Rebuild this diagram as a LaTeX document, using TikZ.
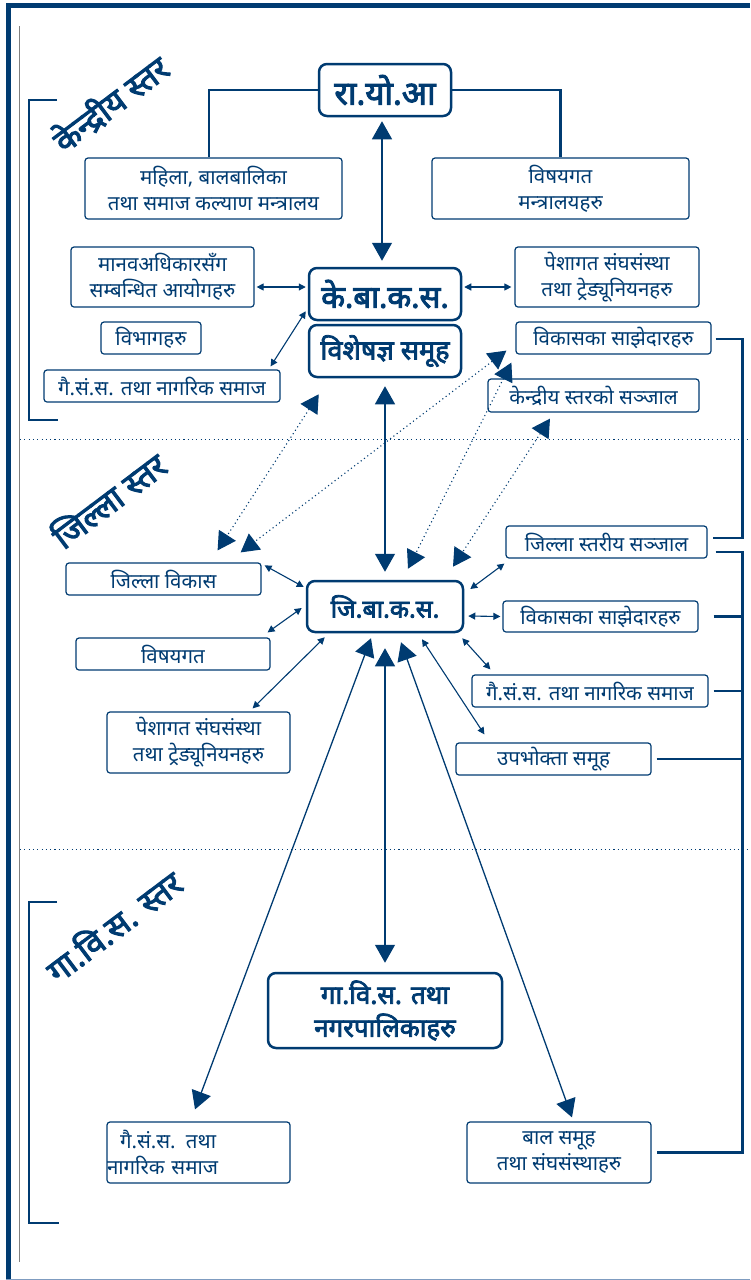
\documentclass[tikz,border=0pt]{standalone}
\usepackage{fontspec}
\newfontfamily\dev[Script=Devanagari]{Noto Sans}
\newfontfamily\devb[Script=Devanagari, FakeBold=3]{Noto Sans}
\usetikzlibrary{arrows.meta,calc}
\definecolor{nb}{HTML}{003B71}
\definecolor{lb}{HTML}{7F9CC0}
\tikzset{
 thinbox/.style={draw=nb, line width=1.2pt, rounded corners=3pt, text=nb, font=\dev\fontsize{20.5}{26}\selectfont, align=center, inner sep=0pt},
 thickbox/.style={draw=nb, line width=2.5pt, rounded corners=8pt, text=nb, font=\devb\fontsize{26}{32}\selectfont, align=center, inner sep=0pt},
 conn/.style={draw=nb, line width=2.3pt},
 bigarr/.style={draw=nb, line width=1.3pt, {Triangle[length=18pt,width=20pt]}-{Triangle[length=18pt,width=20pt]}},
 dotarr/.style={draw=nb, line width=1.1pt, dash pattern=on 1.1pt off 3pt, {Triangle[length=18pt,width=20pt]}-{Triangle[length=18pt,width=20pt]}},
 smallarr/.style={draw=nb, line width=1.1pt, {Triangle[length=7pt,width=7pt]}-{Triangle[length=7pt,width=7pt]}},
 levellabel/.style={text=nb, font=\devb\fontsize{33}{36}\selectfont, rotate=37, inner sep=0pt},
 levelline/.style={draw=nb, line width=1pt, dash pattern=on 1.1pt off 3.2pt},
 bracket/.style={draw=nb, line width=2.5pt},
}
\begin{document}
\begin{tikzpicture}[x=1pt,y=-1pt]
\useasboundingbox (0,0) rectangle (750,1280);
% frame
\draw[nb, line width=5pt] (6,5.8) -- (750,5.8);
\draw[nb, line width=5pt] (8.5,3.3) -- (8.5,1279);
\draw[lb, line width=1pt] (6,1279) -- (750,1279);
\draw[gray, line width=0.9pt] (19,26) -- (19,1262);
% level separators
\draw[levelline] (20,439) -- (750,439);
\draw[levelline] (20,849) -- (750,849);
% left brackets
\draw[bracket] (57,100) -- (29,100) -- (29,420) -- (58,420);
\draw[bracket] (57,902) -- (29,902) -- (29,1223) -- (59,1223);
% level labels
\node[levellabel] (lvlc) at (110,103) {केन्द्रीय स्तर};
\node[levellabel] (lvld) at (108,499) {जिल्ला स्तर};
\node[levellabel] (lvlg) at (113,925) {गा.वि.स. स्तर};

% central level
\node[thickbox, minimum width=132pt, minimum height=52pt, font=\devb\fontsize{33}{36}\selectfont] (rayoa) at (385,90) {रा.यो.आ};
\node[thinbox, minimum width=257pt, minimum height=61pt] (mahila) at (213.5,188.5) {महिला, बालबालिका\\तथा समाज कल्याण मन्त्रालय};
\node[thinbox, minimum width=257pt, minimum height=61pt] (bishayac) at (560.5,188.5) {विषयगत\\मन्त्रालयहरु};
\node[thinbox, minimum width=183pt, minimum height=60pt] (manav) at (162.5,277) {मानवअधिकारसँग\\सम्बन्धित आयोगहरु};
\node[thickbox, minimum width=152pt, minimum height=52pt, font=\devb\fontsize{31}{36}\selectfont] (kebakasa) at (385,294) {के.बा.क.स.};
\node[thickbox, minimum width=152pt, minimum height=52pt, font=\devb\fontsize{27}{32}\selectfont] (bishesagya) at (385,351) {विशेषज्ञ समूह};
\node[thinbox, minimum width=100pt, minimum height=32pt] (bibhag) at (151,338) {विभागहरु};
\node[thinbox, minimum width=236pt, minimum height=32pt] (gaisansac) at (162,386) {गै.सं.स. तथा नागरिक समाज};
\node[thinbox, minimum width=184pt, minimum height=60pt] (peshac) at (607,277) {पेशागत संघसंस्था\\तथा ट्रेड्यूनियनहरु};
\node[thinbox, minimum width=195pt, minimum height=32pt] (bikasc) at (613.5,338) {विकासका साझेदारहरु};
\node[thinbox, minimum width=211pt, minimum height=33pt] (kendsanjal) at (593.5,395.5) {केन्द्रीय स्तरको सञ्जाल};

% district level
\node[thinbox, minimum width=195pt, minimum height=32pt] (jillabikas) at (163.5,579) {जिल्ला विकास};
\node[thinbox, minimum width=194pt, minimum height=32pt] (bishayad) at (173,654) {विषयगत};
\node[thinbox, minimum width=183pt, minimum height=61pt] (peshad) at (198.5,742.5) {पेशागत संघसंस्था\\तथा ट्रेड्यूनियनहरु};
\node[thickbox, minimum width=156pt, minimum height=51pt, font=\devb\fontsize{25}{30}\selectfont] (jibakasa) at (385,606.5) {जि.बा.क.स.};
\node[thinbox, minimum width=201pt, minimum height=32pt] (jillastat) at (606.5,542) {जिल्ला स्तरीय सञ्जाल};
\node[thinbox, minimum width=195pt, minimum height=31pt] (bikasd) at (600.5,616.5) {विकासका साझेदारहरु};
\node[thinbox, minimum width=236pt, minimum height=32pt] (gaisansad) at (590,691) {गै.सं.स. तथा नागरिक समाज};
\node[thinbox, minimum width=195pt, minimum height=32pt] (upabhokta) at (553.5,759) {उपभोक्ता समूह};

% VDC level
\node[thickbox, minimum width=234pt, minimum height=75pt, font=\devb\fontsize{26}{33}\selectfont] (gavisa) at (385,1010.5) {गा.वि.स. तथा\\नगरपालिकाहरु};
\node[thinbox, minimum height=61pt, text width=183pt, align=left] (gaisansab) at (198.5,1152.5) {\hspace*{13pt}गै.सं.स. तथा\\नागरिक समाज};
\node[thinbox, minimum width=184pt, minimum height=61pt] (balsamuh) at (559,1152.5) {बाल समूह\\तथा संघसंस्थाहरु};

% top connectors
\draw[conn] (rayoa.west) -| ($(mahila.north)+(-4.5,0)$);
\draw[conn] (rayoa.east) -| (bishayac.north);

% right brackets
\draw[bracket] ($(bikasc.east)+(4,1)$) -- ++(27,0) |- ($(jillastat.east)+(5,-4)$);
\draw[bracket] ($(jillastat.east)+(8,10)$) -- ++(27,0) coordinate (rbtop) |- ($(balsamuh.east)+(5,0)$);
\draw[bracket] ($(bikasd.east)+(15,0)$) -- (rbtop |- bikasd.east);
\draw[bracket] ($(gaisansad.east)+(5,0)$) -- (rbtop |- gaisansad.east);
\draw[bracket] ($(upabhokta.east)+(5,0)$) -- (rbtop |- upabhokta.east);

% big arrows
\draw[bigarr, shorten <=4pt, shorten >=6pt] ($(rayoa.south)+(-3,0)$) -- ($(kebakasa.north)+(-3,0)$);
\draw[bigarr, shorten <=8pt, shorten >=8pt] (bishesagya.south) -- (jibakasa.north);
\draw[bigarr, shorten <=15pt, shorten >=9pt] (jibakasa.south) -- (gavisa.north);
\draw[bigarr] ($(jibakasa.south)+(-14,5)$) -- ($(gaisansab.north)+(-3.5,-12)$);
\draw[bigarr] ($(jibakasa.south)+(16,9)$) -- ($(balsamuh.north)+(13,-4)$);

% dotted arrows between levels
\draw[dotarr] ($(bishesagya.south west)+(11,16)$) -- ($(jillabikas.north east)+(-44,-12)$);
\draw[dotarr] ($(bikasc.south west)+(-9,-4)$) -- ($(jillabikas.north east)+(-21,-10)$);
\draw[dotarr] ($(bikasc.south west)+(-4,8)$) -- ($(jibakasa.north)+(23,-11)$);
\draw[dotarr] ($(kendsanjal.south)+(-43.5,6)$) -- ($(jibakasa.north)+(68,-13)$);

% small arrows
\draw[smallarr] ($(manav.east)+(2,10)$) -- ($(kebakasa.west)+(-2,-7)$);
\draw[smallarr] ($(gaisansac.north east)+(-10,-3)$) -- ($(kebakasa.south west)+(-2,-10)$);
\draw[smallarr] ($(kebakasa.east)+(2,-7)$) -- ($(peshac.west)+(-3,10)$);
\draw[smallarr] ($(jillabikas.north east)+(3,3)$) -- ($(jibakasa.west)+(-2,-19.5)$);
\draw[smallarr] ($(bishayad.north east)+(-3,-5)$) -- ($(jibakasa.west)+(-4,1.5)$);
\draw[smallarr] ($(peshad.north east)+(-38,-3)$) -- ($(jibakasa.south west)+(19,4)$);
\draw[smallarr] ($(jibakasa.east)+(6,-17.5)$) -- ($(jillastat.south west)+(-1,5)$);
\draw[smallarr] ($(jibakasa.east)+(4,9.5)$) -- ($(bikasd.west)+(-2,0)$);
\draw[smallarr] ($(jibakasa.south east)+(-2,5)$) -- ($(gaisansad.north west)+(19,-5)$);
\draw[smallarr] ($(jibakasa.south)+(37,6)$) -- ($(upabhokta.north west)+(29,-8)$);
\end{tikzpicture}
\end{document}
